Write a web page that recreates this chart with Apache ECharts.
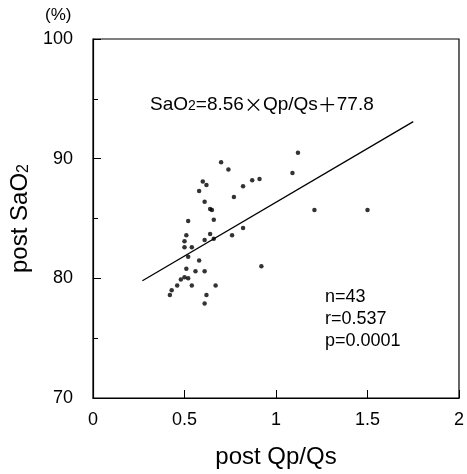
<!DOCTYPE html>
<html>
<head>
<meta charset="utf-8">
<script src="https://cdn.jsdelivr.net/npm/echarts@6/dist/echarts.min.js"></script>
<style>
html,body{margin:0;padding:0;background:#fff;}
#c{width:467px;height:474px;}
</style>
</head>
<body>
<div id="c"></div>
<script>
// post Qp/Qs (x) and post SaO2 (y)
var qpqs = [0.70,0.74,0.60,0.62,0.58,0.87,0.91,0.82,0.77,0.61,0.64,0.65,0.66,0.52,0.82,0.64,0.51,0.76,0.66,0.61,0.50,0.50,0.54,0.52,0.58,0.92,0.51,0.56,0.61,0.50,0.52,0.48,0.54,0.67,0.46,0.43,0.42,0.62,0.61,1.12,1.09,1.21,1.50];
var sao2 = [89.7,89.1,88.1,87.8,87.3,88.2,88.3,87.7,86.8,86.4,85.8,85.7,84.9,84.8,84.2,83.7,83.6,83.6,83.3,83.2,83.1,82.6,82.6,81.8,81.5,81.0,80.8,80.6,80.6,80.1,80.0,79.9,79.4,79.4,79.4,79.0,78.6,78.6,77.9,90.5,88.8,85.7,85.7];
// regression line endpoints as drawn
var fitX = [0.27, 1.75];
var fitY = [79.8, 93.1];
var xTicks = [0, 0.5, 1, 1.5, 2];
var yTicks = [70, 80, 90, 100];

var points = qpqs.map(function(v,i){return [v, sao2[i]];});
var fit = fitX.map(function(v,i){return [v, fitY[i]];});
var FONT = '"Liberation Sans", Arial, Helvetica, sans-serif';
var CJK = '"Noto Sans CJK JP", "Noto Sans CJK SC", sans-serif';

var chart = echarts.init(document.getElementById('c'));
chart.setOption({
  animation:false,
  backgroundColor:'#fff',
  grid:{left:93,right:8,top:39,bottom:75,show:true,borderColor:'#000',borderWidth:1.2},
  xAxis:{type:'value',min:xTicks[0],max:xTicks[xTicks.length-1],interval:0.5,
    axisLine:{show:true,onZero:false,lineStyle:{color:'#000',width:1.2}},
    axisTick:{show:true,inside:true,length:8,lineStyle:{color:'#000'}},
    splitLine:{show:false},
    axisLabel:{color:'#000',fontSize:18,fontFamily:FONT,margin:13,
      formatter:function(v){return String(v);}},
    name:'post Qp/Qs',nameLocation:'middle',nameGap:47,
    nameTextStyle:{color:'#000',fontSize:24,fontFamily:FONT}},
  yAxis:{type:'value',min:yTicks[0],max:yTicks[yTicks.length-1],interval:10,
    axisLine:{show:true,onZero:false,lineStyle:{color:'#000',width:1.2}},
    axisTick:{show:true,inside:true,length:8,lineStyle:{color:'#000'}},
    minorTick:{show:true,splitNumber:2,length:5,lineStyle:{color:'#000'}},
    splitLine:{show:false},
    axisLabel:{color:'#000',fontSize:18,fontFamily:FONT,margin:20},
    name:'{a|post SaO}{b|2}',nameLocation:'middle',nameGap:55,nameRotate:90,
    nameTextStyle:{color:'#000',fontFamily:FONT,
      rich:{a:{fontSize:24,fontFamily:FONT,color:'#000'},
            b:{fontSize:16,fontFamily:FONT,color:'#000',verticalAlign:'bottom',padding:[8,0,0,0]}}}},
  graphic:[
    {type:'text',left:45,top:7,style:{text:'(%)',font:'17px '+FONT,fill:'#000'}},
    {type:'text',left:150,top:95,style:{
      text:'{a|SaO}{s|2}{a|=8.56}{c|×}{a|Qp/Qs}{c|＋}{a|77.8}',
      rich:{a:{fontSize:19,fontFamily:FONT,fill:'#000',color:'#000'},
            c:{fontSize:19,fontFamily:CJK,fill:'#000',color:'#000'},
            s:{fontSize:14,fontFamily:FONT,fill:'#000',color:'#000',padding:[3,0,0,0]}}}},
    {type:'text',left:325,top:286,style:{text:'n=43\nr=0.537\np=0.0001',font:'18px '+FONT,fill:'#000',lineHeight:22}}
  ],
  series:[
    {type:'scatter',data:points,symbol:'circle',symbolSize:4.5,itemStyle:{color:'#000'},silent:true},
    {type:'line',data:fit,symbol:'none',lineStyle:{color:'#000',width:1.3},silent:true}
  ]
});
</script>
</body>
</html>
